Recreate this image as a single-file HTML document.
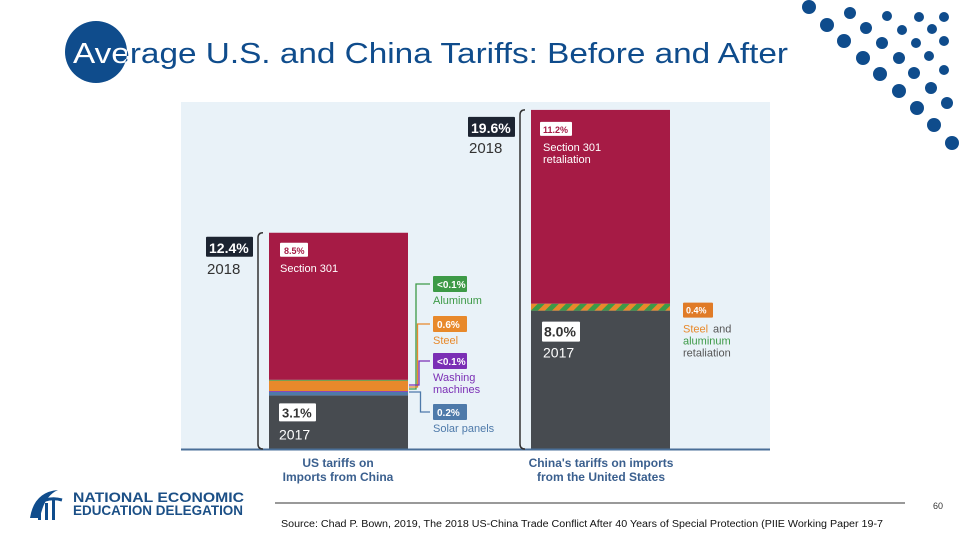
<!DOCTYPE html>
<html><head><meta charset="utf-8"><style>
body{margin:0;background:#fff}
svg{display:block;font-family:"Liberation Sans",sans-serif}
</style></head><body>
<svg width="960" height="540" viewBox="0 0 960 540">
<defs>
<clipPath id="cc"><circle cx="96" cy="52" r="31"/></clipPath>
<pattern id="stripe" width="10" height="10" patternUnits="userSpaceOnUse" patternTransform="rotate(45)">
<rect width="5" height="10" fill="#e8892b"/><rect x="5" width="5" height="10" fill="#3d9a47"/></pattern>
</defs>
<circle cx="96" cy="52" r="31" fill="#0f4c8c"/>
<text x="73" y="63" font-size="29" fill="#0f4c8c" textLength="715" lengthAdjust="spacingAndGlyphs">Average U.S. and China Tariffs: Before and After</text>
<text x="73" y="63" font-size="29" fill="#fff" textLength="715" lengthAdjust="spacingAndGlyphs" clip-path="url(#cc)">Average U.S. and China Tariffs: Before and After</text>
<g id="dots"></g>
<rect x="181" y="102" width="589" height="347" fill="#e9f2f8"/>
<g id="bars"></g>
<line x1="181" y1="449.5" x2="770" y2="449.5" stroke="#4a6f98" stroke-width="2"/>
<g id="labels" font-weight="bold"></g>
<text x="338" y="467" font-size="12" font-weight="bold" fill="#3a5f8e" text-anchor="middle">US tariffs on</text>
<text x="338" y="481" font-size="12" font-weight="bold" fill="#3a5f8e" text-anchor="middle">Imports from China</text>
<text x="601" y="467" font-size="12" font-weight="bold" fill="#3a5f8e" text-anchor="middle">China's tariffs on imports</text>
<text x="601" y="481" font-size="12" font-weight="bold" fill="#3a5f8e" text-anchor="middle">from the United States</text>
<g>
<path d="M30 518 Q34 492 58 490 Q44 496 40 518 Z" fill="#0f4c8c"/>
<rect x="38" y="506" width="3" height="14" fill="#0f4c8c"/><rect x="45" y="503" width="3" height="17" fill="#0f4c8c"/><rect x="52" y="500" width="3" height="20" fill="#0f4c8c"/>
<path d="M36 505 Q48 496 62 500" stroke="#0f4c8c" stroke-width="3" fill="none"/>
<text x="73" y="502" font-size="13.5" font-weight="bold" fill="#1b4f86" textLength="171" lengthAdjust="spacingAndGlyphs">NATIONAL ECONOMIC</text>
<text x="73" y="515" font-size="13.5" font-weight="bold" fill="#1b4f86" textLength="170" lengthAdjust="spacingAndGlyphs">EDUCATION DELEGATION</text>
</g>
<line x1="275" y1="503" x2="905" y2="503" stroke="#333" stroke-width="1"/>
<text x="933" y="509" font-size="9" fill="#333">60</text>
<text x="281" y="527" font-size="10" fill="#111" textLength="602" lengthAdjust="spacingAndGlyphs">Source: Chad P. Bown, 2019, The 2018 US-China Trade Conflict After 40 Years of Special Protection (PIIE Working Paper 19-7</text>
</svg>
<script>
const NS="http://www.w3.org/2000/svg";
const categories=["US","China"];
const usSegments=["2017","Solar panels","Washing machines","Steel","Aluminum","Section 301"];
const usValues=[3.1,0.2,0.05,0.6,0.05,8.5];
const usColors=["#474b50","#4e7aaa","#7b2fb5","#e8892b","#3d9a47","#a61b45"];
const chinaSegments=["2017","Steel and aluminum","Section 301 retaliation"];
const chinaValues=[8.0,0.4,11.2];
const chinaColors=["#474b50","url(#stripe)","#a61b45"];
const totals=[12.4,19.6];
const dots=[[809,7,7],[850,13,6],[887,16,5],[919,17,5],[944,17,5],[827,25,7],[866,28,6],[902,30,5],[932,29,5],[844,41,7],[882,43,6],[916,43,5],[944,41,5],[863,58,7],[899,58,6],[929,56,5],[880,74,7],[914,73,6],[944,70,5],[899,91,7],[931,88,6],[917,108,7],[947,103,6],[934,125,7],[952,143,7]];
const base=449, pxPer=17.3;
const y=v=>base-v*pxPer;
const barX={US:269,China:531}, barW=139;
function mk(tag,attrs,parent){const e=document.createElementNS(NS,tag);for(const k in attrs)e.setAttribute(k,attrs[k]);parent.appendChild(e);return e;}
const dg=document.getElementById('dots');
dots.forEach(d=>{const c=mk('circle',{cx:d[0],cy:d[1],r:d[2],fill:'#0f4c8c'},dg);

});
const bg=document.getElementById('bars');
function stack(cat,vals,cols,names){let acc=0;const x=barX[cat];
vals.forEach((v,i)=>{const r=mk('rect',{x:x,y:y(acc+v),width:barW,height:v*pxPer,fill:cols[i]},bg);


acc+=v;});return acc;}
const usTop=stack("US",usValues,usColors,usSegments);
const chTop=stack("China",chinaValues,chinaColors,chinaSegments);
const lg=document.getElementById('labels');
function txt(x,yy,s,size,fill,name,weight){const t=mk('text',{x:x,y:yy,'font-size':size,fill:fill},lg);if(weight)t.setAttribute('font-weight',weight);t.textContent=s;

return t;}
function box(x,yy,w,h,fill,name){const r=mk('rect',{x:x,y:yy,width:w,height:h,fill:fill,rx:1},lg);

}
function bracket(x,top,name){const p=mk('path',{d:`M${x+5} ${top} Q${x} ${top} ${x} ${top+5} L${x} ${base-5} Q${x} ${base} ${x+5} ${base}`,stroke:'#333',fill:'none','stroke-width':1.5},lg);

}
bracket(258,y(usTop),'bracket-us');
bracket(520,y(chTop),'bracket-china');
box(206,y(usTop)+4,47,20,'#1c2431','total-us-box');
txt(209,y(usTop)+20,totals[0]+'%',14,'#fff','total-us');
txt(207,y(usTop)+41,'2018',15,'#333','year-2018-us','normal');
box(468,y(chTop)+7,47,20,'#1c2431','total-china-box');
txt(471,y(chTop)+23,totals[1]+'%',14,'#fff','total-china');
txt(469,y(chTop)+43,'2018',15,'#333','year-2018-china','normal');
box(280,y(usTop)+10,28,14,'#fff','section301-box');
txt(284,y(usTop)+21,usValues[5]+'%',9,'#a61b45','section301-value');
txt(280,y(usTop)+39,'Section 301',11,'#fff','section301-label','normal');
box(279,y(3.1)+8,37,18,'#fff','us-2017-box');
txt(282,y(3.1)+22,usValues[0].toFixed(1)+'%',13,'#333','us-2017-value');
txt(279,y(3.1)+44,'2017',14,'#fff','us-2017-year','normal');
box(540,y(chTop)+12,32,14,'#fff','retaliation-box');
txt(543,y(chTop)+23,chinaValues[2]+'%',9,'#a61b45','retaliation-value');
txt(543,y(chTop)+41,'Section 301',11,'#fff','retaliation-label','normal');
txt(543,y(chTop)+53,'retaliation',11,'#fff','retaliation-label-2','normal');
box(542,y(8.0)+11,38,20,'#fff','china-2017-box');
txt(544,y(8.0)+26,chinaValues[0].toFixed(1)+'%',14,'#333','china-2017-value');
txt(543,y(8.0)+47,'2017',14,'#fff','china-2017-year','normal');
box(683,y(8.4)-1,30,15,'#e07b27','steel-alu-box');
txt(686,y(8.4)+10,chinaValues[1]+'%',9,'#fff','steel-alu-value');
txt(683,y(8.4)+29,'Steel',11,'#e8892b','steel-alu-label-1','normal');
txt(713,y(8.4)+29,'and',11,'#555','steel-alu-label-and','normal');
txt(683,y(8.4)+41,'aluminum',11,'#3d9a47','steel-alu-label-2','normal');
txt(683,y(8.4)+53,'retaliation',11,'#555','steel-alu-label-3','normal');
const callouts=[["<0.1%","Aluminum","",276,"#3d9a47","#3d9a47",389],["0.6%","Steel","",316,"#e8892b","#e8892b",387],["<0.1%","Washing","machines",353,"#7b2fb5","#7b2fb5",385],["0.2%","Solar panels","",404,"#4e7aaa","#4e7aaa",392]];
callouts.forEach((c,i)=>{box(433,c[3],34,16,c[4],'callout-box-'+i);
txt(437,c[3]+12,c[0],10,'#fff','callout-value-'+i);
txt(433,c[3]+28,c[1],11,c[5],'callout-label-'+i,'normal');
if(c[2])txt(433,c[3]+40,c[2],11,c[5],'callout-label2-'+i,'normal');
const lx=416+i*1.5;
const p=mk('path',{d:`M409 ${c[6]} L${lx} ${c[6]} L${lx} ${c[3]+8} L430 ${c[3]+8}`,stroke:c[4],fill:'none','stroke-width':1.3},lg);

});
</script>
</body></html>
